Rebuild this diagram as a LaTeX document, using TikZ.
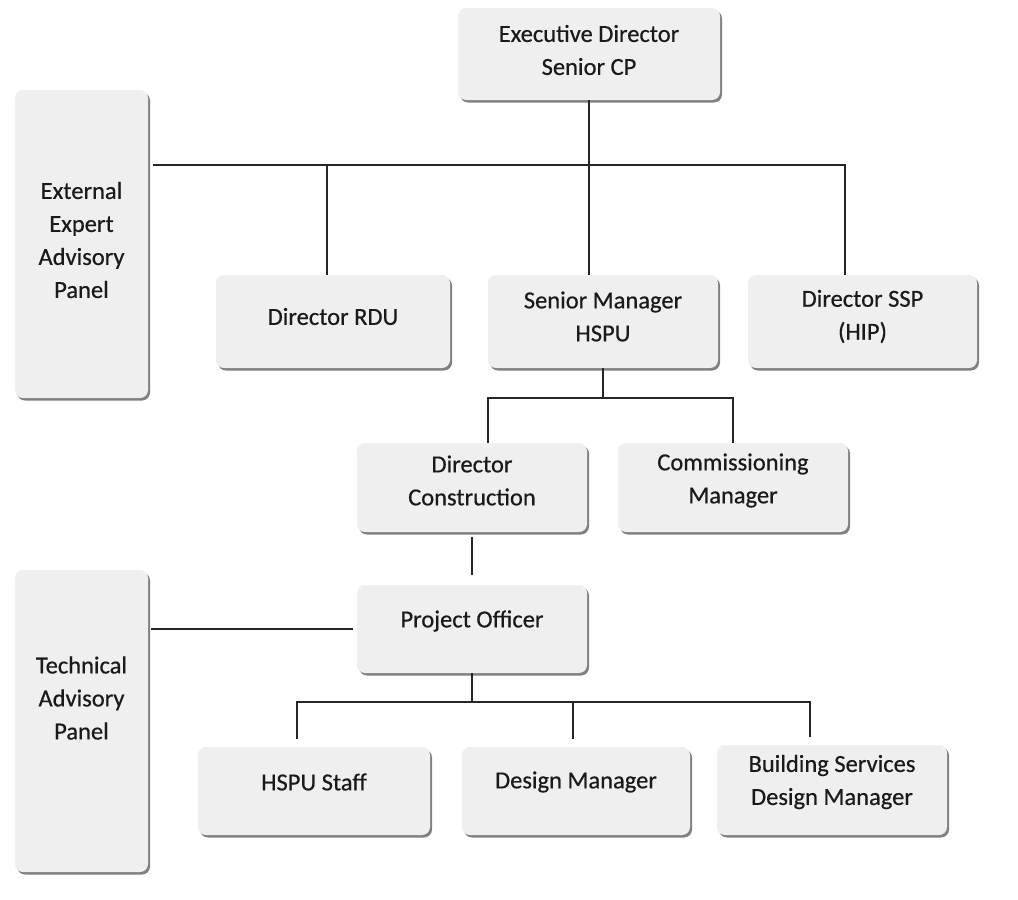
\documentclass[tikz,border=0pt]{standalone}
\usepackage{fontspec}
\setmainfont{Carlito}[FakeBold=0.5]
\usetikzlibrary{shadows}
\definecolor{boxfill}{HTML}{EFEFEF}
\definecolor{ink}{HTML}{1A1A1A}
\tikzset{
  orgbox/.style={fill=boxfill, rounded corners=8pt, inner sep=0pt,
    drop shadow={shadow xshift=2pt, shadow yshift=-2.5pt, fill=black!50, opacity=1}},
  orgtext/.style={text=ink, font=\fontsize{24.5}{33}\selectfont, align=center, inner sep=0pt},
  link/.style={draw=black!85, line width=1.3pt},
}
\begin{document}
\begin{tikzpicture}[x=1pt,y=-1pt]
\useasboundingbox (0,0) rectangle (1018,900);

% boxes
\node[orgbox, minimum width=262, minimum height=92] (exec) at (589,54) {};
\node[orgbox, minimum width=133, minimum height=308] (ext) at (81.5,244) {};
\node[orgbox, minimum width=234, minimum height=93] (rdu) at (333,321.5) {};
\node[orgbox, minimum width=230, minimum height=93] (sm) at (603,321.5) {};
\node[orgbox, minimum width=229, minimum height=93] (ssp) at (862.5,321.5) {};
\node[orgbox, minimum width=230, minimum height=89] (dc) at (472,487.5) {};
\node[orgbox, minimum width=230, minimum height=89] (cm) at (733,487.5) {};
\node[orgbox, minimum width=230, minimum height=88] (po) at (472,629) {};
\node[orgbox, minimum width=133, minimum height=302] (tap) at (81.5,721) {};
\node[orgbox, minimum width=232, minimum height=88] (hs) at (314,791) {};
\node[orgbox, minimum width=228, minimum height=88] (dm) at (576,791) {};
\node[orgbox, minimum width=230, minimum height=90] (bsdm) at (832,790) {};

% labels
\node[orgtext] (execT) at ([yshift=4pt]exec.center) {Executive Director\\Senior CP};
\node[orgtext] (extT) at ([yshift=4pt]ext.center) {External\\Expert\\Advisory\\Panel};
\node[orgtext] (rduT) at ([yshift=5pt]rdu.center) {Director RDU};
\node[orgtext] (smT) at ([yshift=5pt]sm.center) {Senior Manager\\HSPU};
\node[orgtext] (sspT) at ([yshift=5pt]ssp.center) {Director SSP\\(HIP)};
\node[orgtext] (dcT) at ([yshift=7pt]dc.center) {Director\\Construction};
\node[orgtext] (cmT) at ([yshift=7pt]cm.center) {Commissioning\\Manager};
\node[orgtext] (poT) at ([yshift=8pt]po.center) {Project Officer};
\node[orgtext] (tapT) at ([yshift=23pt]tap.center) {Technical\\Advisory\\Panel};
\node[orgtext] (hsT) at ([yshift=9pt]hs.center) {HSPU Staff};
\node[orgtext] (dmT) at ([yshift=9pt]dm.center) {Design Manager};
\node[orgtext] (bsdmT) at ([yshift=8pt]bsdm.center) {Building Services\\Design Manager};

% top bus
\coordinate (busL) at (153,165);
\coordinate (busR) at (845,165);
\coordinate (busRdu) at (327,165);
\draw[link] (busL) -- (busR) -- (busR |- ssp.north);
\draw[link] (busRdu) -- (busRdu |- rdu.north);
\draw[link] (exec.south) -- (exec.south |- sm.north);

% middle bus
\coordinate (midL) at (488,398);
\coordinate (midR) at (733,398);
\draw[link] (sm.south) -- (sm.south |- midL);
\draw[link] (midL |- dc.north) -- (midL) -- (midR) -- (midR |- cm.north);

% project officer
\draw[link, shorten <=5pt, shorten >=10pt] (dc.south) -- (po.north);
\draw[link, shorten <=3pt, shorten >=4pt] (tap.east |- po.west) -- (po.west);

% lower bus
\coordinate (lowC) at (472,702);
\coordinate (lowL) at (297,702);
\coordinate (lowM) at (573,702);
\coordinate (lowR) at (810,702);
\draw[link] (po.south) -- (lowC);
\draw[link, shorten <=8pt, shorten >=8pt] (lowL |- hs.north) -- (lowL) -- (lowR) -- (lowR |- bsdm.north);
\draw[link, shorten >=8pt] (lowM) -- (lowM |- dm.north);
\end{tikzpicture}
\end{document}
